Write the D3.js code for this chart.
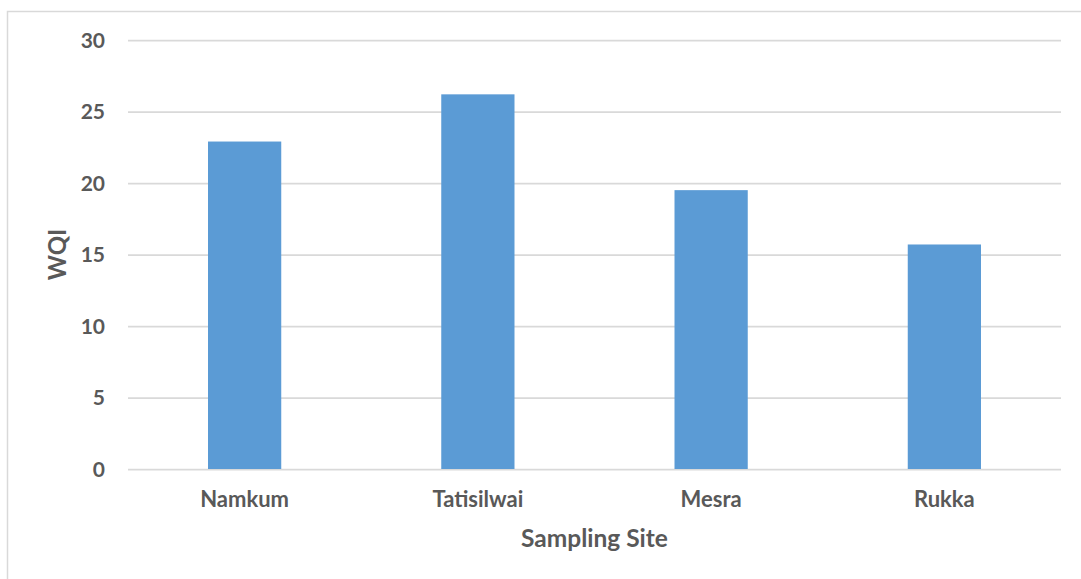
<!DOCTYPE html>
<html>
<head>
<meta charset="utf-8">
<script src="https://cdn.jsdelivr.net/npm/d3@7"></script>
<style>
  html, body { margin: 0; padding: 0; background: #fff; }
  svg { display: block; }
  text { font-family: Lato, "Open Sans", sans-serif; font-weight: bold; fill: #595959; }
</style>
</head>
<body>
<svg id="chart" width="1081" height="579"></svg>
<script>
const categories = ["Namkum", "Tatisilwai", "Mesra", "Rukka"];
const wqiValues = [22.9, 26.2, 19.5, 15.7];
const yTicks = [0, 5, 10, 15, 20, 25, 30];
const xTitle = "Sampling Site";
const yTitle = "WQI";

const W = 1081, H = 579;
const margin = { left: 128, right: 20, top: 40, bottom: 110 };
const svg = d3.select("#chart");

// outer frame
svg.append("rect")
  .attr("x", 7.5).attr("y", 11.5)
  .attr("width", 1100).attr("height", 700)
  .attr("fill", "none").attr("stroke", "#d9d9d9").attr("stroke-width", 1.5);

const x = d3.scaleBand()
  .domain(categories)
  .range([margin.left, W - margin.right])
  .paddingInner(0.686)
  .paddingOuter(0.343);

const y = d3.scaleLinear()
  .domain([0, 30])
  .range([469, 40]);

// gridlines
const yAxis = d3.axisLeft(y)
  .tickValues(yTicks)
  .tickSize(-(W - margin.right - margin.left))
  .tickPadding(23);

const gy = svg.append("g")
  .attr("transform", `translate(${margin.left},0)`)
  .call(yAxis);
gy.select(".domain").remove();
gy.selectAll(".tick line").attr("stroke", "#d9d9d9").attr("stroke-width", 1.75);
gy.selectAll(".tick text").style("font-size", "21px").attr("dy", "0.35em");

// bars
svg.append("g").selectAll("rect")
  .data(categories.map((c, i) => ({ c, v: wqiValues[i] })))
  .join("rect")
  .attr("x", d => x(d.c))
  .attr("width", x.bandwidth())
  .attr("y", d => y(d.v))
  .attr("height", d => y(0) - y(d.v))
  .attr("fill", "#5b9bd5");

// x axis
const xAxis = d3.axisBottom(x).tickSize(0).tickPadding(22);
const gx = svg.append("g")
  .attr("transform", `translate(0,${y(0)})`)
  .call(xAxis);
gx.select(".domain").remove();
gx.selectAll(".tick text").style("font-size", "22px");

// axis titles
svg.append("text")
  .attr("x", (margin.left + W - margin.right) / 2)
  .attr("y", 547)
  .attr("text-anchor", "middle")
  .style("font-size", "24.5px")
  .text(xTitle);

svg.append("text")
  .attr("transform", `translate(66,${(y(0) + y(30)) / 2}) rotate(-90)`)
  .attr("text-anchor", "middle")
  .style("font-size", "24px")
  .text(yTitle);
</script>
</body>
</html>
